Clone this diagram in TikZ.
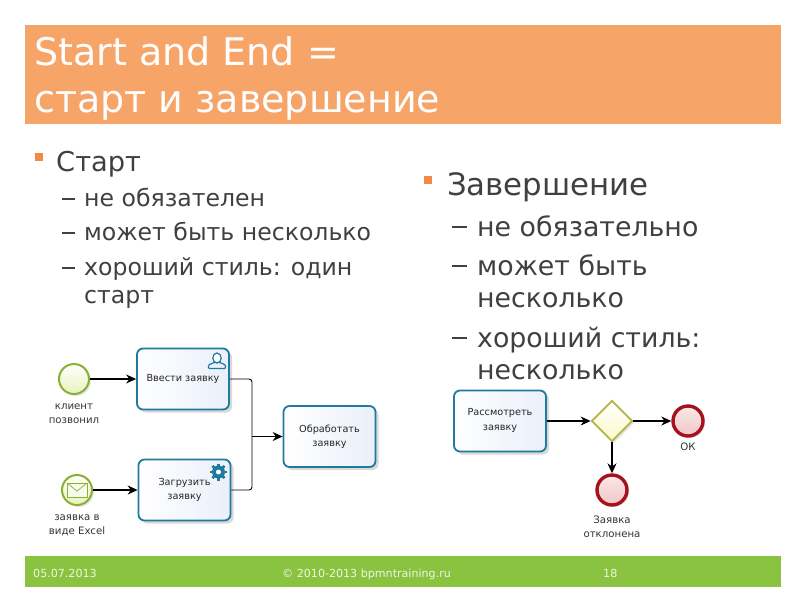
\documentclass[tikz,border=0pt]{standalone}
\usepackage{fontspec}
\setmainfont{DejaVu Sans}
\usetikzlibrary{positioning}
\usetikzlibrary{shapes.geometric}
\usetikzlibrary{arrows.meta}
\usetikzlibrary{shadows}
\definecolor{titleband}{HTML}{F7A469}
\definecolor{footband}{HTML}{8AC33F}
\definecolor{bodytext}{HTML}{404040}
\definecolor{bulletor}{HTML}{F08A4B}
\definecolor{taskblue}{HTML}{1F7A9E}
\definecolor{taskfill}{HTML}{EAEFFA}
\definecolor{startgreen}{HTML}{8BB034}
\definecolor{startfill}{HTML}{E9F2BE}
\definecolor{endred}{HTML}{A5121E}
\definecolor{endfill}{HTML}{F2C6C6}
\definecolor{gatecolor}{HTML}{B3B34A}
\definecolor{gatefill}{HTML}{FBFAC8}

\begin{document}
\begin{tikzpicture} [
          x=1pt, y=-1pt,
          titletext/.style = {anchor=base west, text=white, font=\fontsize{38}{38}\selectfont, inner sep=0pt},
          bighead/.style = {anchor=base west, text=bodytext, font=\fontsize{27.3}{27.3}\selectfont, inner sep=0pt},
          lefttext/.style = {anchor=base west, text=bodytext, font=\fontsize{23.6}{23.6}\selectfont, inner sep=0pt},
          righttext/.style = {anchor=base west, text=bodytext, font=\fontsize{26.8}{26.8}\selectfont, inner sep=0pt},
          foottext/.style = {anchor=base west, text=white!85!footband, font=\fontsize{11.1}{11.1}\selectfont, inner sep=0pt},
          bullet/.style = {fill=bulletor, minimum size=8pt, inner sep=0pt},
          leftdash/.style = {fill=bodytext, minimum width=13pt, minimum height=2pt, inner sep=0pt},
          rightdash/.style = {fill=bodytext, minimum width=15pt, minimum height=2pt, inner sep=0pt},
          task/.style = {rectangle, rounded corners=6pt, draw=taskblue, line width=1.8pt,
                         left color=white, right color=taskfill, drop shadow={shadow xshift=3pt, shadow yshift=-3pt, opacity=0.3},
                         minimum width=92pt, minimum height=61pt, inner sep=1pt, align=center,
                         font=\fontsize{9.7}{14.5}\selectfont, text=black!85},
          startev/.style = {circle, draw=startgreen, line width=2pt, top color=white, bottom color=startfill,
                            drop shadow={shadow xshift=2pt, shadow yshift=-2pt, opacity=0.2},
                            minimum size=30pt, inner sep=0pt},
          endev/.style = {circle, draw=endred, line width=3.4pt, top color=white!60!endfill, bottom color=endfill,
                          drop shadow={shadow xshift=2pt, shadow yshift=-2pt, opacity=0.2},
                          minimum size=30pt, inner sep=0pt},
          gateway/.style = {diamond, aspect=1, draw=gatecolor, line width=1.8pt, top color=white, bottom color=gatefill,
                            drop shadow={shadow xshift=2pt, shadow yshift=-2pt, opacity=0.2},
                            minimum size=41pt, inner sep=0pt},
          evlabel/.style = {align=center, inner sep=0pt, font=\fontsize{10.2}{14}\selectfont, text=black!80},
          flow/.style = {draw=black, line width=1.1pt, -{Stealth[length=10pt,width=9pt]}},
          mergeline/.style = {draw=black, line width=0.9pt, rounded corners=3pt}
          ]
          \useasboundingbox (0,0) rectangle (800,600);

          % bands
          \fill[titleband] (25,25) rectangle (781,124);
          \fill[footband] (25,556) rectangle (781,587);

          \node[titletext] (title1) at (34,65) {Start and End =};
          \node[titletext] (title2) at (34,112) {старт и завершение};

          % left column
          \node[bullet] (bulletl) at (39,157) {};
          \node[bighead] (startword) at (56,171) {Старт};
          \node[leftdash] (dashl1) at (68.5,199) {};
          \node[lefttext] (l1) at (84,206) {не обязателен};
          \node[leftdash] (dashl2) at (68.5,233) {};
          \node[lefttext] (l2) at (84,240) {может быть несколько};
          \node[leftdash] (dashl3) at (68.5,268) {};
          \node[lefttext] (l3) at (84,275) {хороший стиль: один};
          \node[lefttext] (l4) at (84,303) {старт};

          % right column
          \node[bullet] (bulletr) at (428,180) {};
          \node[bighead, font=\fontsize{30.8}{30.8}\selectfont] (endword) at (447,195) {Завершение};
          \node[rightdash] (dashr1) at (459.5,227) {};
          \node[righttext] (r1) at (477,236) {не обязательно};
          \node[rightdash] (dashr2) at (459.5,266) {};
          \node[righttext] (r2) at (477,275) {может быть};
          \node[righttext] (r3) at (477,307) {несколько};
          \node[rightdash] (dashr3) at (459.5,338) {};
          \node[righttext] (r4) at (477,347) {хороший стиль:};
          \node[righttext] (r5) at (477,379) {несколько};

          % left diagram
          \node[startev] (callstart) at (74,379) {};
          \node[startev] (mailstart) at (77,490) {};
          \node[task] (entertask) at (183,379) {Ввести заявку};
          \node[task] (loadtask) at (184.5,490) {\raisebox{-3pt}{Загрузить}\\\raisebox{-3pt}{заявку}};
          \node[task] (handletask) at (329.5,436.5) {Обработать\\заявку};
          \node[evlabel, below=9pt of callstart] (calllabel) {клиент\\позвонил};
          \node[evlabel, below=9pt of mailstart] (maillabel) {заявка в\\виде Excel};

          \coordinate (merge) at (252,436.5);
          \draw[flow] (callstart) -- (entertask);
          \draw[flow] (mailstart) -- (loadtask);
          \draw[mergeline] (entertask.east) -| (merge);
          \draw[mergeline] (loadtask.east) -| (merge);
          \draw[flow] (merge) -- (handletask);

          % envelope
          \draw[startgreen, line width=0.7pt, fill=white!70!startfill]
                (mailstart.center) ++(-10,-7) rectangle ++(20,14);
          \draw[startgreen, line width=0.7pt]
                (mailstart.center) ++(-10,-7) -- ++(10,8) -- ++(10,-8);

          % user mark
          \draw[taskblue, line width=1.2pt, rounded corners=1pt]
                (208.5,368.5) -- (208.5,365) -- (214,362.5) -- (220,362.5) -- (225.5,365) -- (225.5,368.5) -- cycle;
          \draw[taskblue, line width=1.2pt, fill=white] (217,358) ellipse (4.2 and 5);

          % gear mark
          \foreach \ang in {0,45,...,315}
            \draw[taskblue, line width=2.6pt] (218.5,472) -- ++(\ang:8.5);
          \fill[taskblue] (218.5,472) circle (6.5);
          \fill[white] (218.5,472) circle (2.5);

          % right diagram
          \node[task] (reviewtask) at (500,421) {\raisebox{3pt}{Рассмотреть}\\\raisebox{3pt}{заявку}};
          \node[gateway] (decision) at (612,421) {};
          \node[endev] (okend) at (688,421) {};
          \node[endev] (rejectend) at (612,490) {};
          \node[evlabel, below=5pt of okend] (oklabel) {ОК};
          \node[evlabel, below=9pt of rejectend] (rejectlabel) {Заявка\\отклонена};

          \draw[flow] (reviewtask) -- (decision);
          \draw[flow] (decision) -- (okend);
          \draw[flow] (decision) -- (rejectend);

          % footer
          \node[foottext] (footdate) at (33,577) {05.07.2013};
          \node[foottext] (footcopy) at (282,577) {© 2010-2013 bpmntraining.ru};
          \node[foottext] (footpage) at (603,577) {18};
        \end{tikzpicture}
\end{document}
